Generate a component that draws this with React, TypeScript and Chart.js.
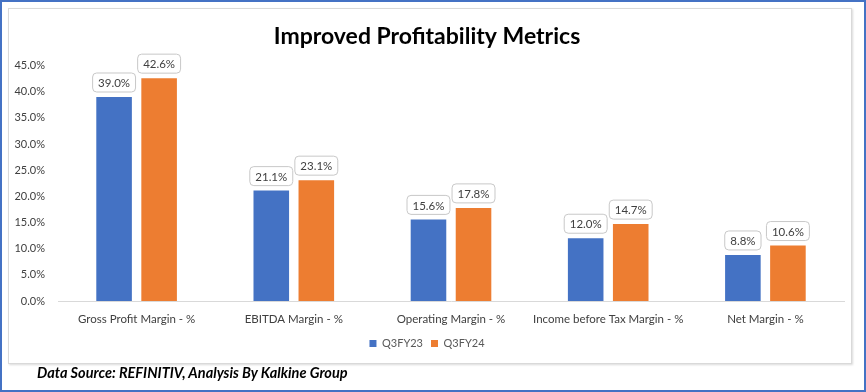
import React, { useEffect, useRef } from "react";
import { Chart, registerables } from "chart.js";

Chart.register(...registerables);

const categories = [
  "Gross Profit Margin - %",
  "EBITDA Margin - %",
  "Operating Margin - %",
  "Income before Tax Margin - %",
  "Net Margin - %",
];
const q3fy23 = [39.0, 21.1, 15.6, 12.0, 8.8];
const q3fy24 = [42.6, 23.1, 17.8, 14.7, 10.6];
const seriesNames = ["Q3FY23", "Q3FY24"];
const yTicks = [0, 5, 10, 15, 20, 25, 30, 35, 40, 45];

const FONT = "Lato, 'Open Sans', sans-serif";

const labelPlugin = {
  id: "boxLabels",
  afterDatasetsDraw(chart: any) {
    const ctx = chart.ctx;
    ctx.save();
    ctx.font = `11.5px ${FONT}`;
    ctx.textAlign = "center";
    ctx.textBaseline = "middle";
    chart.data.datasets.forEach((ds: any, di: number) => {
      const meta = chart.getDatasetMeta(di);
      meta.data.forEach((bar: any, i: number) => {
        const txt = ds.data[i].toFixed(1) + "%";
        const w = ctx.measureText(txt).width + 11;
        const h = 19;
        const x = bar.x;
        const bottom = bar.y - 5;
        ctx.beginPath();
        ctx.roundRect(x - w / 2, bottom - h, w, h, 4);
        ctx.fillStyle = "#ffffff";
        ctx.fill();
        ctx.strokeStyle = "#C8C8C8";
        ctx.lineWidth = 1;
        ctx.stroke();
        ctx.fillStyle = "#404040";
        ctx.fillText(txt, x, bottom - h / 2 + 1);
      });
    });
    ctx.restore();
  },
};

export default function App() {
  const ref = useRef<HTMLCanvasElement>(null);
  useEffect(() => {
    const chart = new Chart(ref.current!, {
      type: "bar",
      data: {
        labels: categories,
        datasets: [
          {
            label: seriesNames[0],
            data: q3fy23,
            backgroundColor: "#4472C4",
            categoryPercentage: 0.573,
            barPercentage: 0.79,
          },
          {
            label: seriesNames[1],
            data: q3fy24,
            backgroundColor: "#ED7D31",
            categoryPercentage: 0.573,
            barPercentage: 0.79,
          },
        ],
      },
      options: {
        animation: false,
        responsive: false,
        maintainAspectRatio: false,
        layout: { padding: { left: 10, right: 22, top: 10, bottom: 9 } },
        plugins: {
          title: {
            display: true,
            text: "Improved Profitability Metrics",
            font: { family: FONT, size: 23, weight: "bold" },
            color: "#000000",
            padding: { top: 5, bottom: 15 },
          },
          legend: {
            position: "bottom",
            labels: {
              boxWidth: 7,
              boxHeight: 7,
              font: { family: FONT, size: 11 },
              color: "#595959",
              padding: 8,
            },
          },
          tooltip: { enabled: false },
        },
        scales: {
          x: {
            grid: { display: false, drawTicks: false },
            border: { color: "#D9D9D9" },
            ticks: {
              font: { family: FONT, size: 11.5 },
              color: "#404040",
              padding: 11,
              maxRotation: 0,
              autoSkip: false,
            },
            afterFit: (s: any) => {
              s.height = 29;
            },
          },
          y: {
            min: 0,
            max: 45,
            afterBuildTicks: (s: any) => {
              s.ticks = yTicks.map((v) => ({ value: v }));
            },
            grid: { display: false, drawTicks: false },
            border: { display: false },
            ticks: {
              font: { family: FONT, size: 11 },
              color: "#404040",
              padding: 13,
              callback: (v: any) => Number(v).toFixed(1) + "%",
            },
            afterFit: (s: any) => {
              s.width = 48;
            },
          },
        },
      },
      plugins: [labelPlugin],
    });
    return () => chart.destroy();
  }, []);

  return (
    <div style={{ position: "absolute", left: 0, top: 0, width: 866, height: 392, background: "#fff", overflow: "hidden" }}>
      <div style={{ position: "absolute", left: 0, top: 0, width: 862, height: 388, border: "2px solid #4472C4" }} />
      <div style={{ position: "absolute", left: 8, top: 8, width: 842, height: 354, border: "1px solid #D9D9D9", boxShadow: "1px 1px 2px rgba(0,0,0,0.15)" }} />
      <canvas ref={ref} width={866} height={360} style={{ position: "absolute", left: 0, top: 8 }} />
      <div
        style={{
          position: "absolute",
          left: 37,
          top: 364,
          fontFamily: FONT,
          fontWeight: "bold",
          fontStyle: "italic",
          fontSize: 14.5,
          color: "#000",
          whiteSpace: "nowrap",
        }}
      >
        Data Source: REFINITIV, Analysis By Kalkine Group
      </div>
    </div>
  );
}
